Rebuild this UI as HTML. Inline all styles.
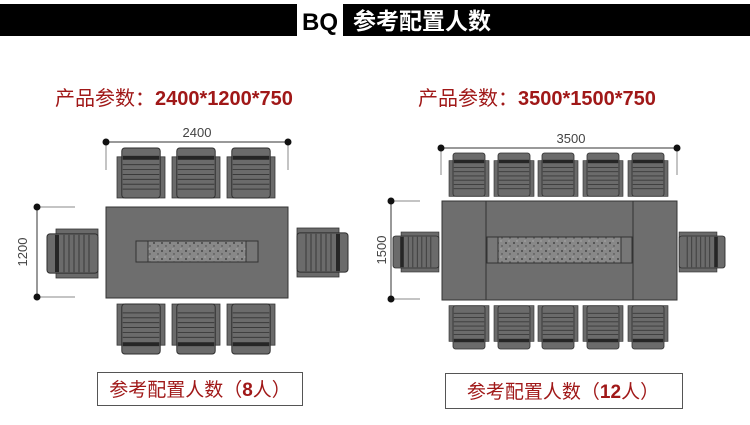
<!DOCTYPE html>
<html><head><meta charset="utf-8"><style>
body{margin:0;background:#fff;width:750px;height:425px;overflow:hidden}
svg{display:block}
</style></head><body>
<svg width="750" height="425" viewBox="0 0 750 425" xmlns="http://www.w3.org/2000/svg">
<defs>
<g id="ch">
  <rect x="0" y="9" width="7" height="42" fill="#6a6a6a" stroke="#333" stroke-width="0.8"/>
  <rect x="43" y="9" width="7" height="42" fill="#6a6a6a" stroke="#333" stroke-width="0.8"/>
  <rect x="5" y="0" width="40" height="51" rx="3" fill="#6b6b6b" stroke="#2e2e2e" stroke-width="1"/>
  <rect x="6" y="8" width="38" height="4" fill="#262626"/>
  <g stroke="#3a3a3a" stroke-width="1">
    <line x1="6" y1="17" x2="44" y2="17"/><line x1="6" y1="22" x2="44" y2="22"/>
    <line x1="6" y1="27" x2="44" y2="27"/><line x1="6" y1="32" x2="44" y2="32"/>
    <line x1="6" y1="37" x2="44" y2="37"/><line x1="6" y1="42" x2="44" y2="42"/>
  </g>
</g>
<pattern id="gr" width="8" height="8" patternUnits="userSpaceOnUse">
  <rect width="8" height="8" fill="#888"/><circle cx="2" cy="3" r="0.9" fill="#333"/><circle cx="6" cy="6" r="0.7" fill="#444"/><circle cx="5" cy="1" r="0.6" fill="#bbb"/>
</pattern>
</defs>
<!-- header -->
<rect x="0" y="4" width="750" height="32" fill="#000"/>
<rect x="297" y="4" width="46" height="32" fill="#fff"/>
<text x="320" y="30" font-family="Liberation Sans, sans-serif" font-size="24" font-weight="bold" fill="#000" text-anchor="middle">BQ</text>
<text x="353" y="29" font-family="Liberation Sans, 'Noto Sans CJK SC', sans-serif" font-size="23" font-weight="bold" fill="#fff">参考配置人数</text>

<!-- red titles -->
<text x="55" y="105" font-family="Liberation Sans, 'Noto Sans CJK SC', sans-serif" font-size="20" fill="#a01818">产品参数：<tspan font-weight="bold">2400*1200*750</tspan></text>
<text x="418" y="105" font-family="Liberation Sans, 'Noto Sans CJK SC', sans-serif" font-size="20" fill="#a01818">产品参数：<tspan font-weight="bold">3500*1500*750</tspan></text>

<g font-family="Liberation Sans, sans-serif" font-size="13" fill="#444">
<!-- LEFT -->
<line x1="106" y1="142" x2="288" y2="142" stroke="#333"/>
<line x1="106" y1="142" x2="106" y2="170" stroke="#888"/>
<line x1="288" y1="142" x2="288" y2="170" stroke="#888"/>
<circle cx="106" cy="142" r="3.5" fill="#111"/><circle cx="288" cy="142" r="3.5" fill="#111"/>
<text x="197" y="137" text-anchor="middle">2400</text>
<line x1="37" y1="207" x2="37" y2="297" stroke="#333"/>
<line x1="37" y1="207" x2="75" y2="207" stroke="#888"/>
<line x1="37" y1="297" x2="75" y2="297" stroke="#888"/>
<circle cx="37" cy="207" r="3.5" fill="#111"/><circle cx="37" cy="297" r="3.5" fill="#111"/>
<text transform="translate(27,252) rotate(-90)" text-anchor="middle">1200</text>

<rect x="106" y="207" width="182" height="91" fill="#6e6e6e" stroke="#333"/>
<rect x="136" y="241" width="122" height="21" fill="url(#gr)" stroke="#333"/>
<rect x="136" y="241" width="12" height="21" fill="#777" stroke="#333"/>
<rect x="246" y="241" width="12" height="21" fill="#777" stroke="#333"/>

<use href="#ch" transform="translate(117,148) scale(0.96,0.98)"/>
<use href="#ch" transform="translate(172,148) scale(0.96,0.98)"/>
<use href="#ch" transform="translate(227,148) scale(0.96,0.98)"/>
<use href="#ch" transform="translate(117,354) scale(0.96,-0.98)"/>
<use href="#ch" transform="translate(172,354) scale(0.96,-0.98)"/>
<use href="#ch" transform="translate(227,354) scale(0.96,-0.98)"/>
<use href="#ch" transform="translate(47,278) rotate(-90) scale(0.98,1.0)"/>
<use href="#ch" transform="translate(348,228) rotate(90) scale(0.98,1.0)"/>

<rect x="97.5" y="372.5" width="205" height="33" fill="#fff" stroke="#555"/>
<text x="200" y="396" text-anchor="middle" font-family="Liberation Sans, 'Noto Sans CJK SC', sans-serif" font-size="19" fill="#a01818">参考配置人数（<tspan font-weight="bold">8</tspan>人）</text>

<!-- RIGHT -->
<line x1="441" y1="148" x2="677" y2="148" stroke="#333"/>
<line x1="441" y1="148" x2="441" y2="175" stroke="#888"/>
<line x1="677" y1="148" x2="677" y2="175" stroke="#888"/>
<circle cx="441" cy="148" r="3.5" fill="#111"/><circle cx="677" cy="148" r="3.5" fill="#111"/>
<text x="571" y="143" text-anchor="middle">3500</text>
<line x1="391" y1="201" x2="391" y2="299" stroke="#333"/>
<line x1="391" y1="201" x2="420" y2="201" stroke="#888"/>
<line x1="391" y1="299" x2="420" y2="299" stroke="#888"/>
<circle cx="391" cy="201" r="3.5" fill="#111"/><circle cx="391" cy="299" r="3.5" fill="#111"/>
<text transform="translate(386,250) rotate(-90)" text-anchor="middle">1500</text>

<rect x="442" y="201" width="235" height="99" fill="#6e6e6e" stroke="#333"/>
<line x1="486" y1="201" x2="486" y2="300" stroke="#333"/>
<line x1="633" y1="201" x2="633" y2="300" stroke="#333"/>
<rect x="487" y="237" width="145" height="26" fill="url(#gr)" stroke="#333"/>
<rect x="487" y="237" width="11" height="26" fill="#777" stroke="#333"/>
<rect x="621" y="237" width="11" height="26" fill="#777" stroke="#333"/>

<use href="#ch" transform="translate(449,153) scale(0.8,0.85)"/>
<use href="#ch" transform="translate(494,153) scale(0.8,0.85)"/>
<use href="#ch" transform="translate(538,153) scale(0.8,0.85)"/>
<use href="#ch" transform="translate(583,153) scale(0.8,0.85)"/>
<use href="#ch" transform="translate(628,153) scale(0.8,0.85)"/>
<use href="#ch" transform="translate(449,349) scale(0.8,-0.85)"/>
<use href="#ch" transform="translate(494,349) scale(0.8,-0.85)"/>
<use href="#ch" transform="translate(538,349) scale(0.8,-0.85)"/>
<use href="#ch" transform="translate(583,349) scale(0.8,-0.85)"/>
<use href="#ch" transform="translate(628,349) scale(0.8,-0.85)"/>
<use href="#ch" transform="translate(393,272) rotate(-90) scale(0.8,0.9)"/>
<use href="#ch" transform="translate(725,232) rotate(90) scale(0.8,0.9)"/>

<rect x="445.5" y="373.5" width="237" height="35" fill="#fff" stroke="#555"/>
<text x="563" y="398" text-anchor="middle" font-family="Liberation Sans, 'Noto Sans CJK SC', sans-serif" font-size="19" fill="#a01818">参考配置人数（<tspan font-weight="bold">12</tspan>人）</text>
</g>
</svg>
</body></html>
